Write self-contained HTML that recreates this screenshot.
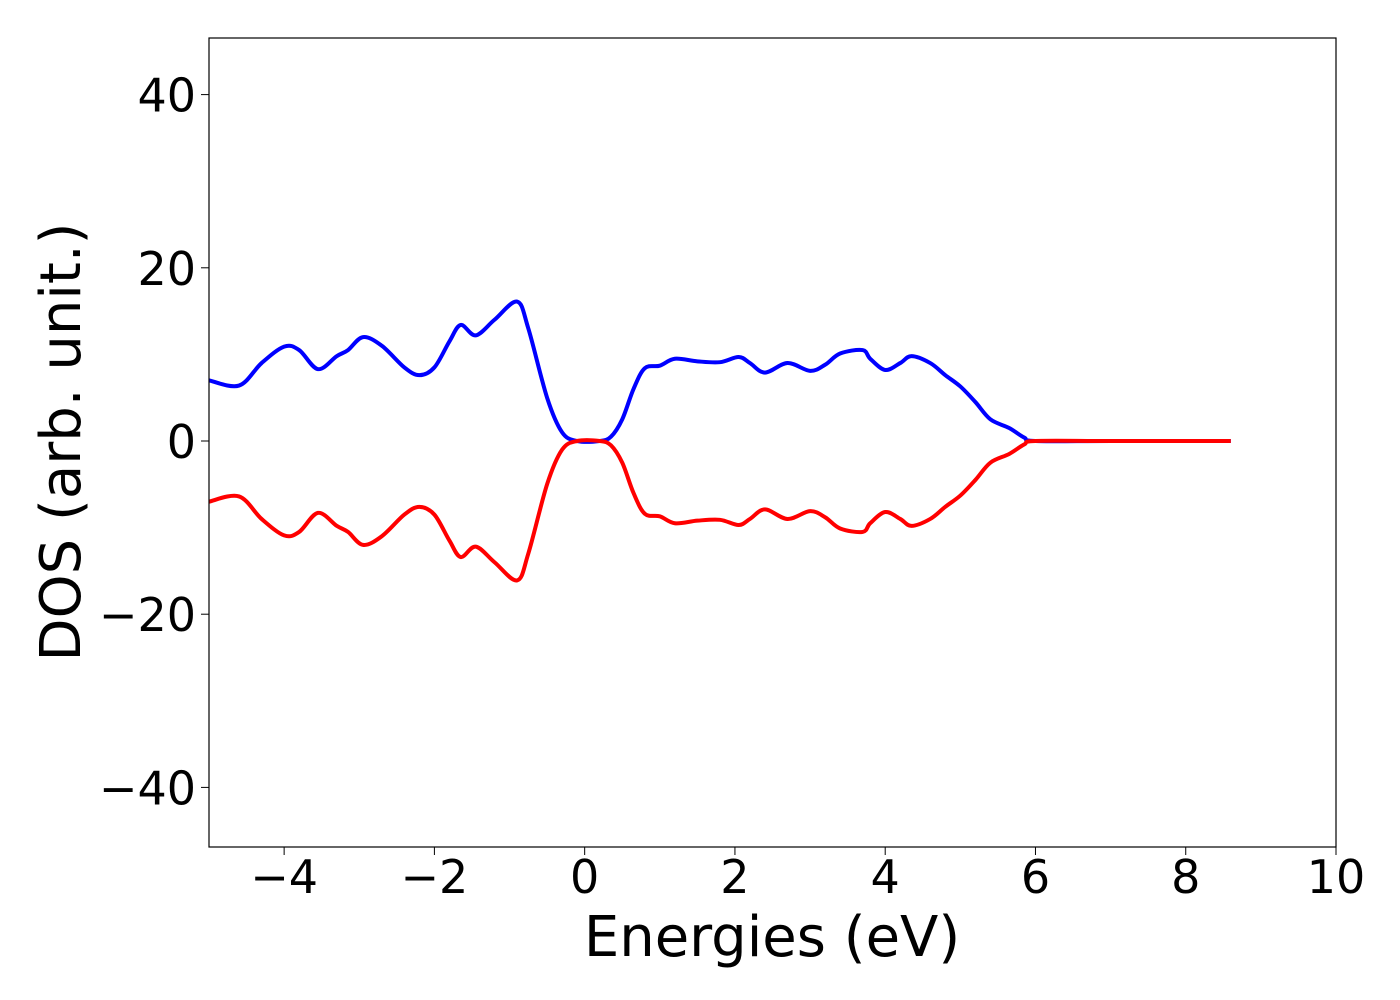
<!DOCTYPE html>
<html><head><meta charset="utf-8"><style>body{margin:0;background:#fff}svg{display:block;font-family:"DejaVu Sans","Liberation Sans",sans-serif}</style></head>
<body>
<svg id="chart" width="1400" height="1000">
<g id="ticks"></g>
<g id="series"></g>
<rect x="209" y="38" width="1127" height="809" fill="none" stroke="#000" stroke-width="1.2"/>
<text x="772" y="956" font-size="56" text-anchor="middle">Energies (eV)</text>
<text transform="translate(80,442) rotate(-90)" font-size="56" text-anchor="middle">DOS (arb. unit.)</text>
</svg>
<script>
const energies=[-5,-4.6,-4.3,-4.0,-3.8,-3.55,-3.3,-3.15,-2.95,-2.7,-2.4,-2.2,-2.0,-1.8,-1.65,-1.45,-1.2,-0.9,-0.75,-0.5,-0.3,-0.1,0.2,0.35,0.5,0.65,0.8,1.0,1.2,1.5,1.8,2.05,2.2,2.4,2.7,3.0,3.2,3.4,3.7,3.8,4.0,4.2,4.35,4.6,4.8,5.0,5.2,5.4,5.65,5.85,6.0,7.0,8.6];
const dosUp=[7.0,6.4,9,10.9,10.5,8.3,9.8,10.5,12,11,8.5,7.6,8.5,11.5,13.4,12.2,14,16.1,13,5,1,0,0,0.5,2.5,6,8.4,8.7,9.5,9.2,9.1,9.7,9,7.9,9.0,8.1,8.8,10.1,10.5,9.5,8.2,9,9.8,9,7.6,6.3,4.5,2.5,1.5,0.4,0,0,0];
const dosDown=dosUp.map(v=>-v);
const xTicks=[-4,-2,0,2,4,6,8,10];
const yTicks=[-40,-20,0,20,40];
const xMin=-5,xMax=10;
const L=209,R=1336,T=38,B=847;
const sx=v=>L+(v-xMin)/(xMax-xMin)*(R-L);
const sy=v=>441-v*8.66;
const ns="http://www.w3.org/2000/svg";
const tg=document.getElementById('ticks');
function fmt(v){return v<0?'\u2212'+(-v):''+v;}
xTicks.forEach(v=>{const x=sx(v);
 const l=document.createElementNS(ns,'line');l.setAttribute('x1',x);l.setAttribute('x2',x);l.setAttribute('y1',B);l.setAttribute('y2',B+8);l.setAttribute('stroke','#000');
 
 tg.appendChild(l);
 const t=document.createElementNS(ns,'text');t.setAttribute('x',x);t.setAttribute('y',B+46);t.setAttribute('font-size','46');t.setAttribute('text-anchor','middle');t.textContent=fmt(v);
 
 tg.appendChild(t);});
yTicks.forEach(v=>{const y=sy(v);
 const l=document.createElementNS(ns,'line');l.setAttribute('x1',L-8);l.setAttribute('x2',L);l.setAttribute('y1',y);l.setAttribute('y2',y);l.setAttribute('stroke','#000');
 
 tg.appendChild(l);
 const t=document.createElementNS(ns,'text');t.setAttribute('x',L-13);t.setAttribute('y',y+17);t.setAttribute('font-size','46');t.setAttribute('text-anchor','end');t.textContent=fmt(v);
 
 tg.appendChild(t);});
function path(vals){const p=energies.map((e,i)=>[sx(e),sy(vals[i])]);
 let d='M'+p[0][0]+','+p[0][1];
 for(let i=0;i<p.length-1;i++){const p0=p[Math.max(0,i-1)],p1=p[i],p2=p[i+1],p3=p[Math.min(p.length-1,i+2)];
  const c1=[p1[0]+(p2[0]-p0[0])/6,p1[1]+(p2[1]-p0[1])/6],c2=[p2[0]-(p3[0]-p1[0])/6,p2[1]-(p3[1]-p1[1])/6];
  d+=' C'+c1+' '+c2+' '+p2;}
 return d;}
const sg=document.getElementById('series');
[[dosUp,'#0000ff','spin-up-line'],[dosDown,'#ff0000','spin-down-line']].forEach(s=>{
 const pa=document.createElementNS(ns,'path');pa.setAttribute('d',path(s[0]));pa.setAttribute('fill','none');pa.setAttribute('stroke',s[1]);pa.setAttribute('stroke-width','4');pa.setAttribute('stroke-linejoin','round');
 
 sg.appendChild(pa);});
</script>
</body></html>
